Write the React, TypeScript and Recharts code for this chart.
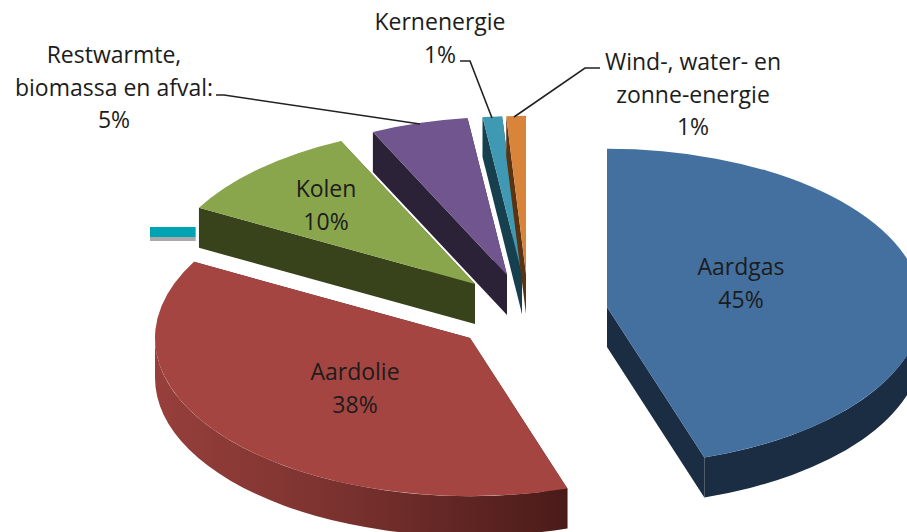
import { PieChart, Pie } from 'recharts'

const categories = ['Aardgas', 'Aardolie', 'Overig', 'Kolen', 'Restwarmte', 'Kernenergie', 'Wind']
const shares = [45, 38, 0, 10, 5, 1, 1]
const labelTexts = [
  ['Aardgas'],
  ['Aardolie'],
  [],
  ['Kolen'],
  ['Restwarmte,', 'biomassa en afval:'],
  ['Kernenergie'],
  ['Wind-, water- en', 'zonne-energie'],
]

const data = categories.map((name, i) => ({ name, value: shares[i] }))

// look of each slice: colours plus how far it is pulled out of the pie
const sliceStyles = [
  { top: '#44709f', wall: '#1b2d42', dx: 87, dy: 17 },
  { top: '#a54541', wall: 'url(#oilWall)', dx: -50, dy: 48 },
  { top: '#00a3b4', wall: '#a9a9a9', dx: -370, dy: -63 },
  { top: '#8aa64d', wall: '#38421b', dx: -45, dy: -6 },
  { top: '#71558f', wall: '#2c2237', dx: -13, dy: -15 },
  { top: '#4099b2', wall: '#17404f', dx: 2, dy: -16 },
  { top: '#d9843b', wall: '#5c3310', dx: 6, dy: -16 },
]

// label anchor (centre x, first baseline y) and leader line per slice
const labelLayout = [
  { x: 741, y: 275, leader: '' },
  { x: 355, y: 380, leader: '' },
  { x: 0, y: 0, leader: '' },
  { x: 326, y: 197, leader: '' },
  { x: 114, y: 63, leader: 'M216 95 L224 95 L420 124' },
  { x: 440, y: 30, leader: 'M460 61 L470 61 L492 118' },
  { x: 693, y: 70, leader: 'M600 68 L585 68 L514 117' },
]

const SQUASH = 0.502
const DEPTH = 40
const LINE_HEIGHT = 32.5

const SliceShape = (props: any) => {
  const { cx, cy, outerRadius, startAngle, endAngle, index } = props
  const style = sliceStyles[index]
  const ax = cx + style.dx
  const ay = cy + style.dy
  const rx = outerRadius
  const ry = outerRadius * SQUASH

  // zero value slice only shows up as a flat strip
  if (startAngle === endAngle) {
    const w = rx * 0.145
    return (
      <g>
        <path d={`M${ax} ${ay + 10} h${w} v4 h${-w} Z`} fill={style.wall} />
        <path d={`M${ax} ${ay} h${w} v10 h${-w} Z`} fill={style.top} />
      </g>
    )
  }

  const from = 90 - startAngle
  const to = 90 - endAngle
  const at = (deg: number, down = 0): [number, number] => {
    const r = (deg * Math.PI) / 180
    return [ax + rx * Math.sin(r), ay - ry * Math.cos(r) + down]
  }
  const [sx, sy] = at(from)
  const [ex, ey] = at(to)
  const large = to - from > 180 ? 1 : 0
  const topPath = `M${ax} ${ay} L${sx} ${sy} A${rx} ${ry} 0 ${large} 1 ${ex} ${ey} Z`

  const edge = (x: number, y: number) =>
    `M${ax} ${ay} L${x} ${y} L${x} ${y + DEPTH} L${ax} ${ay + DEPTH} Z`

  const wallFrom = Math.max(from, 90)
  const wallTo = Math.min(to, 270)
  let arcWall = ''
  if (wallTo > wallFrom) {
    const [x0, y0] = at(wallFrom)
    const [x1, y1] = at(wallTo)
    arcWall = `M${x0} ${y0} A${rx} ${ry} 0 0 1 ${x1} ${y1} L${x1} ${y1 + DEPTH} A${rx} ${ry} 0 0 0 ${x0} ${y0 + DEPTH} Z`
  }

  return (
    <g>
      <defs>
        <linearGradient id="oilWall" x1="1" y1="0" x2="0" y2="0">
          <stop offset="0" stopColor="#4a1b19" />
          <stop offset="0.55" stopColor="#7a322f" />
          <stop offset="1" stopColor="#973f3b" />
        </linearGradient>
      </defs>
      <path d={edge(sx, sy)} fill={index === 1 ? '#4a1b19' : style.wall} />
      <path d={edge(ex, ey)} fill={index === 1 ? '#4a1b19' : style.wall} />
      {arcWall && <path d={arcWall} fill={style.wall} />}
      <path d={topPath} fill={style.top} />
    </g>
  )
}

const renderLabel = (props: any) => {
  const { index } = props
  const lines = labelTexts[index]
  if (!lines.length) return null
  const place = labelLayout[index]
  return (
    <text fontFamily="Open Sans" fontSize={23} fill="#1c1c1c" textAnchor="middle" key={index}>
      {lines.map((line, i) => (
        <tspan key={line} x={place.x} y={place.y + i * LINE_HEIGHT}>
          {line}
        </tspan>
      ))}
      <tspan x={place.x} y={place.y + lines.length * LINE_HEIGHT}>
        {shares[index]}%
      </tspan>
    </text>
  )
}

const renderLeader = (props: any) => {
  const leader = labelLayout[props.index].leader
  if (!leader) return null
  return <path d={leader} fill="none" stroke="#222" strokeWidth={1.6} key={props.index} />
}

export default function App() {
  return (
    <div style={{ position: 'absolute', left: 0, top: 0, width: 907, height: 532, background: '#fff' }}>
      <PieChart width={907} height={532} margin={{ top: 0, right: 0, bottom: 0, left: 0 }}>
        <Pie
          data={data}
          dataKey="value"
          nameKey="name"
          cx={520}
          cy={290}
          innerRadius={0}
          outerRadius={315}
          startAngle={90}
          endAngle={-270}
          stroke="none"
          isAnimationActive={false}
          shape={SliceShape}
          label={renderLabel}
          labelLine={renderLeader}
        />
      </PieChart>
    </div>
  )
}
